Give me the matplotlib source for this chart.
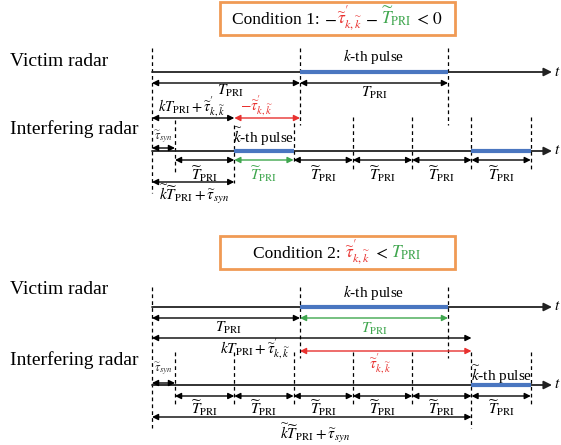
import matplotlib.pyplot as plt
from matplotlib.offsetbox import TextArea, HPacker, AnnotationBbox, DrawingArea
from matplotlib.patches import Rectangle

plt.rcParams['font.family'] = ['Liberation Serif', 'DejaVu Serif']
plt.rcParams['mathtext.fontset'] = 'stix'

# pulse boundaries on the time axis (time 0 = start of the drawing)
victim_edges = [0, 148, 296]
interf_edges = [23, 82.3, 141.6, 200.9, 260.2, 319.5, 378.8]
t_end = 400

# which pulse slots are drawn blue
victim_pulse = [1]
top_interf_pulses = [1, 5]
bot_interf_pulses = [5]
top_green_slot = 1

RED = '#E8312F'
GREEN = '#3FA64E'
BLUE = '#4A76C0'
ORANGE = '#F09A55'

TP = r'$T_{\mathrm{PRI}}$'
TPt = r'$\widetilde{T}_{\mathrm{PRI}}$'
TAU = r"$\widetilde{\tau}^{\prime}_{k,\widetilde{k}}$"
TSYN = r'$\widetilde{\tau}_{syn}$'

fig = plt.figure(figsize=(5.61, 4.45), dpi=100)
ax = fig.add_axes([0, 0, 1, 1])
ax.set_xlim(-152, 409)
ax.set_ylim(445, 0)
ax.axis('off')


def px(x):
    # pixel column -> time axis
    return x - 152


def darrow(x0, x1, y, color='black'):
    ax.annotate('', xy=(x1, y), xytext=(x0, y),
                arrowprops=dict(arrowstyle='<|-|>', color=color, lw=1.0,
                                shrinkA=0, shrinkB=0, mutation_scale=9))


def vdash(x, y0, y1):
    ax.plot([x, x], [y0, y1], color='black', lw=0.9, ls=(0, (3, 2.5)))


def timeline(y, pulses, edges):
    ax.annotate('', xy=(t_end, y), xytext=(0, y),
                arrowprops=dict(arrowstyle='-|>', color='#222222', lw=1.3,
                                shrinkA=0, shrinkB=0, mutation_scale=12))
    for i in pulses:
        ax.plot([edges[i], edges[i + 1]], [y, y], color=BLUE, lw=3,
                solid_capstyle='butt', zorder=5)
    ax.text(t_end + 2, y, r'$t$', fontsize=11, va='center', ha='left')


def ctext(x, y, parts, size):
    # parts: (text, colour) or a number = gap in points
    boxes = []
    for p in parts:
        if isinstance(p, (int, float)):
            boxes.append(DrawingArea(p, 1))
        else:
            boxes.append(TextArea(p[0], textprops=dict(color=p[1], fontsize=size)))
    pack = HPacker(children=boxes, align='baseline', pad=0, sep=0)
    ab = AnnotationBbox(pack, (x, y), frameon=False, box_alignment=(0.5, 0.5), pad=0)
    ax.add_artist(ab)


def cond_box(y0, y1, parts):
    ax.add_patch(Rectangle((px(220), y0), px(455) - px(220), y1 - y0,
                           fill=False, ec=ORANGE, lw=2))
    ctext((px(220) + px(455)) / 2, (y0 + y1) / 2, parts, 12.5)


# ---------------- Condition 1 ----------------
cond_box(2, 35, [('Condition 1:', 'black'), 3, (r'$-$', 'black'), (TAU, RED), 2,
                 (r'$-$', 'black'), 2, (TPt, GREEN), 2, (r'$<$', 'black'), 2,
                 (r'$0$', 'black')])
ax.text(px(10), 62, 'Victim radar', fontsize=14, va='center')
ax.text(px(10), 129, 'Interfering radar', fontsize=14, va='center')

vdash(victim_edges[0], 48, 193)
vdash(victim_edges[1], 48, 125)
vdash(victim_edges[2], 48, 125)
timeline(72, victim_pulse, victim_edges)
ax.text((victim_edges[1] + victim_edges[2]) / 2, 56, r'$k$-th pulse', fontsize=11,
        ha='center', va='center')
darrow(victim_edges[0], victim_edges[1], 83)
darrow(victim_edges[1], victim_edges[2], 83)
ax.text(px(230), 91, TP, fontsize=11, ha='center', va='center')
ax.text((victim_edges[1] + victim_edges[2]) / 2, 93, TP, fontsize=11,
        ha='center', va='center')

ax.text(px(192), 107, r"$kT_{\mathrm{PRI}}+\widetilde{\tau}^{\prime}_{k,\widetilde{k}}$",
        fontsize=10.5, ha='center', va='center')
ax.text(px(256), 106, r"$-\widetilde{\tau}^{\prime}_{k,\widetilde{k}}$", fontsize=11,
        color=RED, ha='center', va='center')
darrow(victim_edges[0], interf_edges[1], 118)
darrow(interf_edges[1], victim_edges[1], 118, RED)

vdash(interf_edges[0], 120, 172)
vdash(interf_edges[1], 125, 183)
vdash(interf_edges[2], 123, 163)
for x in interf_edges[3:]:
    vdash(x, 117, 170)
timeline(151, top_interf_pulses, interf_edges)
ax.text(px(163), 137, TSYN, fontsize=9, ha='center', va='center', color='#333333')
darrow(0, interf_edges[0], 148)
ax.text((interf_edges[1] + interf_edges[2]) / 2, 137, r'$\widetilde{k}$-th pulse',
        fontsize=11, ha='center', va='center')
for i in range(len(interf_edges) - 1):
    c = GREEN if i == top_green_slot else 'black'
    darrow(interf_edges[i], interf_edges[i + 1], 160, c)
    ax.text((interf_edges[i] + interf_edges[i + 1]) / 2, 174, TPt, fontsize=11,
            color=c, ha='center', va='center')
darrow(0, interf_edges[1], 182)
ax.text(px(194), 194, r'$\widetilde{k}\widetilde{T}_{\mathrm{PRI}}+\widetilde{\tau}_{syn}$',
        fontsize=11, ha='center', va='center')

# ---------------- Condition 2 ----------------
cond_box(236, 269, [('Condition 2:', 'black'), 3, (TAU, RED), 2,
                    (r'$<$', 'black'), 2, (TP, GREEN)])
ax.text(px(10), 290, 'Victim radar', fontsize=14, va='center')
ax.text(px(10), 360, 'Interfering radar', fontsize=14, va='center')

vdash(victim_edges[0], 287, 428)
vdash(victim_edges[1], 287, 358)
vdash(victim_edges[2], 287, 358)
timeline(307, victim_pulse, victim_edges)
ax.text((victim_edges[1] + victim_edges[2]) / 2, 293, r'$k$-th pulse', fontsize=11,
        ha='center', va='center')
darrow(victim_edges[0], victim_edges[1], 318)
darrow(victim_edges[1], victim_edges[2], 318, GREEN)
ax.text(px(228), 328, TP, fontsize=11, ha='center', va='center')
ax.text((victim_edges[1] + victim_edges[2]) / 2, 329, TP, fontsize=11, color=GREEN,
        ha='center', va='center')

darrow(victim_edges[0], interf_edges[5], 338)
ax.text(px(255), 349, r"$kT_{\mathrm{PRI}}+\widetilde{\tau}^{\prime}_{k,\widetilde{k}}$",
        fontsize=11, ha='center', va='center')
darrow(victim_edges[1], interf_edges[5], 351, RED)
ax.text(px(380), 364, TAU, fontsize=11, color=RED, ha='center', va='center')

for x in interf_edges:
    vdash(x, 352, 428 if x == interf_edges[5] else 407)
timeline(385, bot_interf_pulses, interf_edges)
ax.text(px(163), 369, TSYN, fontsize=9, ha='center', va='center', color='#333333')
darrow(0, interf_edges[0], 383)
ax.text((interf_edges[5] + interf_edges[6]) / 2, 375, r'$\widetilde{k}$-th pulse',
        fontsize=11, ha='center', va='center')
for i in range(len(interf_edges) - 1):
    darrow(interf_edges[i], interf_edges[i + 1], 396)
    ax.text((interf_edges[i] + interf_edges[i + 1]) / 2, 408, TPt, fontsize=11,
            ha='center', va='center')
darrow(0, interf_edges[5], 417)
ax.text(px(315), 433, r'$\widetilde{k}\widetilde{T}_{\mathrm{PRI}}+\widetilde{\tau}_{syn}$',
        fontsize=11, ha='center', va='center')

fig.savefig('out.png', dpi=100)
